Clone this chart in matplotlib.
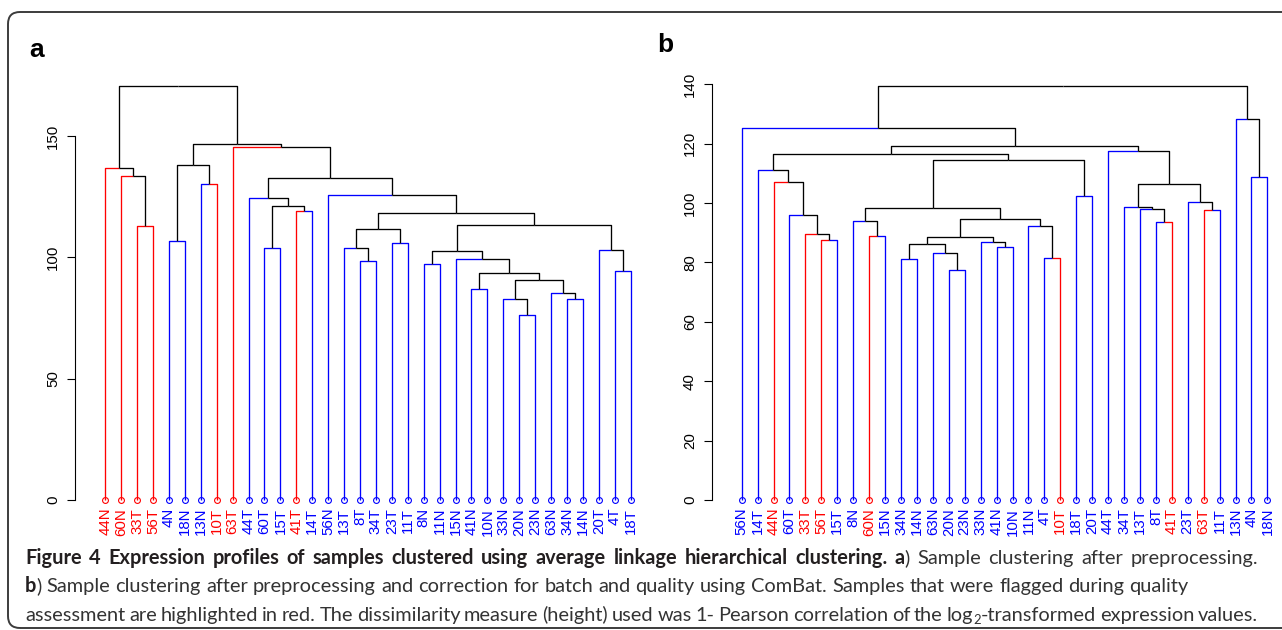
import matplotlib
matplotlib.use("Agg")
import matplotlib.pyplot as plt
import matplotlib.transforms as mtransforms
from matplotlib.patches import FancyBboxPatch

# leaf order as drawn, and the samples flagged in QC (drawn red)
leaves_a = ["44N", "60N", "33T", "56T", "4N", "18N", "13N", "10T", "63T", "44T", "60T", "15T",
            "41T", "14T", "56N", "13T", "8T", "34T", "23T", "11T", "8N", "11N", "15N", "41N",
            "10N", "33N", "20N", "23N", "63N", "34N", "14N", "20T", "4T", "18T"]
leaves_b = ["56N", "14T", "44N", "60T", "33T", "56T", "15T", "8N", "60N", "15N", "34N", "14N",
            "63N", "20N", "23N", "33N", "41N", "10N", "11N", "4T", "10T", "18T", "20T", "44T",
            "34T", "13T", "8T", "41T", "23T", "63T", "11T", "13N", "4N", "18N"]
flagged = {"44N", "60N", "33T", "56T", "10T", "63T", "41T"}

# merges as [left, right, height]
tree_a = [
    ["44N", ["60N", ["33T", "56T", 112.8], 133.6], 136.9],
    [
        [["4N", "18N", 106.9], ["13N", "10T", 130.3], 138.2],
        ["63T",
         [["44T", [["60T", "15T", 103.8], ["41T", "14T", 119.2], 121.1], 124.4],
          ["56N",
           [[["13T", ["8T", "34T", 98.6], 103.8], ["23T", "11T", 105.7], 111.7],
            [[["8N", "11N", 97.1],
              ["15N", [["41N", "10N", 86.8],
                       [["33N", ["20N", "23N", 76.1], 82.7],
                        ["63N", ["34N", "14N", 82.9], 85.2], 90.6], 93.7], 99.2],
              102.6],
             ["20T", ["4T", "18T", 94.5], 103.0],
             113.2],
            118.4],
           125.8],
          132.7],
         145.3],
        146.5],
    170.6]

tree_b = [
    ["56N",
     [[["14T", ["44N", ["60T", ["33T", ["56T", "15T", 87.5], 89.6], 95.9], 107.0], 111.3],
       [[["8N", ["60N", "15N", 88.8], 94.1],
         [[[["34N", "14N", 81.1], ["63N", ["20N", "23N", 77.5], 83.3], 86.1],
           ["33N", ["41N", "10N", 85.3], 87.0],
           88.7],
          ["11N", ["4T", "10T", 81.4], 92.2],
          94.8],
         98.3],
        ["18T", "20T", 102.3],
        114.6],
       116.4],
      ["44T",
       [["34T", ["13T", ["8T", "41T", 93.7], 98.1], 98.6],
        ["23T", ["63T", "11T", 97.7], 100.5],
        106.4],
       117.4],
      119.4],
     125.3],
    ["13N", ["4N", "18N", 108.8], 128.2],
    139.4]

yticks_a = [0, 50, 100, 150]
yticks_b = [0, 20, 40, 60, 80, 100, 120, 140]

caption_bold = "Figure 4 Expression profiles of samples clustered using average linkage hierarchical clustering."
caption_a = "Sample clustering after preprocessing."
caption_b = ("Sample clustering after preprocessing and correction for batch and quality using ComBat. "
             "Samples that were flagged during quality")
caption_c = ("assessment are highlighted in red. The dissimilarity measure (height) used was 1- Pearson "
             "correlation of the")
caption_c_end = "expression values."

RED = "#FF0000"
BLUE = "#0000FF"
W, H = 1282, 630


def leaf_color(name):
    return RED if name in flagged else BLUE


def leaf_order(node):
    if isinstance(node, str):
        return [node]
    return leaf_order(node[0]) + leaf_order(node[1])


def draw_tree(ax, node, pos):
    if isinstance(node, str):
        return pos[node], 0.0
    left, right, h = node
    kids = [draw_tree(ax, left, pos), draw_tree(ax, right, pos)]
    x = (kids[0][0] + kids[1][0]) / 2
    for child, (cx, ch) in zip((left, right), kids):
        col = leaf_color(child) if isinstance(child, str) else "black"
        ax.plot([x, cx, cx], [h, h, ch], color=col, lw=0.95, solid_capstyle="butt")
    return x, h


def dendro_panel(fig, tree, leaves, yticks, box, x_first, x_step, px_per_unit):
    assert leaf_order(tree) == leaves
    left, right, top, bottom = box
    ax = fig.add_axes([left / W, 1 - bottom / H, (right - left) / W, (bottom - top) / H])
    base = 500
    ax.set_xlim((left - x_first) / x_step, (right - x_first) / x_step)
    ax.set_ylim((base - bottom) / px_per_unit, (base - top) / px_per_unit)
    pos = {name: i for i, name in enumerate(leaves)}
    draw_tree(ax, tree, pos)
    for i, name in enumerate(leaves):
        col = leaf_color(name)
        ax.plot(i, 0, "o", ms=4.2, mfc="none", mec=col, mew=0.8, clip_on=False)
        ax.annotate(name, (i, 0), xytext=(0, -5.6), textcoords="offset points",
                    rotation=90, ha="center", va="top", color=col, fontsize=10.8,
                    family="Liberation Sans", annotation_clip=False)
    for s in ("top", "right", "bottom"):
        ax.spines[s].set_visible(False)
    ax.spines["left"].set_bounds(yticks[0], yticks[-1])
    ax.spines["left"].set_linewidth(0.8)
    ax.set_xticks([])
    ax.set_yticks(yticks)
    ax.set_yticklabels([str(t) for t in yticks], family="Liberation Sans", fontsize=10.8)
    ax.tick_params(axis="y", length=5.8, width=0.8, pad=5.0)
    for lbl in ax.get_yticklabels():
        lbl.set_rotation(90)
        lbl.set_va("center")
    ax.patch.set_visible(False)
    return ax


fig = plt.figure(figsize=(W / 100, H / 100), dpi=100)
ident = mtransforms.IdentityTransform()

border = FancyBboxPatch((8, 2), 1320, 616, boxstyle="round,pad=0,rounding_size=12",
                        transform=ident, fill=False, ec="#3c3c3c", lw=1.4)
fig.add_artist(border)

dendro_panel(fig, tree_a, leaves_a, yticks_a, (75, 640, 80, 510), 105.3, 15.92, 2.427)
dendro_panel(fig, tree_b, leaves_b, yticks_b, (712, 1278, 80, 510), 741.7, 15.93, 2.969)

fig.text(29, H - 57, "a", transform=ident, family="Liberation Sans", weight="bold",
         fontsize=19, va="baseline")
fig.text(657, H - 52, "b", transform=ident, family="Liberation Sans", weight="bold",
         fontsize=19, va="baseline")

# caption, drawn word by word so bold/regular/subscript runs can be mixed
renderer = fig.canvas.get_renderer()
BOLD_C = "#231F20"
REG_C = "#333333"


def run_props(style, size):
    if style == "b":
        return dict(family="Lato", weight="bold", fontsize=size, color=BOLD_C)
    if style == "s":
        return dict(family="Lato", fontsize=size * 0.65, color=REG_C)
    return dict(family="Lato", fontsize=size, color=REG_C)


def width_of(s, style, size):
    t = fig.text(0, 0, s, transform=ident, **run_props(style, size))
    w = t.get_window_extent(renderer).width
    t.remove()
    return w


def space_of(size):
    return width_of("n n", "r", size) - width_of("nn", "r", size)


def word_width(word, size):
    return sum(width_of(s, st, size) for s, st in word)


def line_width(words, size, squeeze=0.8):
    return sum(word_width(w, size) for w in words) + squeeze * space_of(size) * (len(words) - 1)


line1 = ([[(w, "b")] for w in caption_bold.split()] + [[("a", "b"), (")", "r")]]
         + [[(w, "r")] for w in caption_a.split()])
line2 = [[("b", "b"), (")", "r")]] + [[(w, "r")] for w in caption_b.split()]
line3 = ([[(w, "r")] for w in caption_c.split()]
         + [[("log", "r"), ("2", "s"), ("-transformed", "r")]]
         + [[(w, "r")] for w in caption_c_end.split()])

x0, x1 = 25, 1258
size = 12 * (x1 - x0) / max(line_width(line1, 12), line_width(line3, 12))


def draw_line(words, baseline, justify):
    gap = space_of(size)
    if justify:
        natural = sum(word_width(w, size) for w in words)
        gap = (x1 - x0 - natural) / (len(words) - 1)
    x = x0
    for word in words:
        for s, st in word:
            y = H - baseline
            if st == "s":
                y -= size * 100 / 72 * 0.15
            fig.text(x, y, s, transform=ident, va="baseline", **run_props(st, size))
            x += width_of(s, st, size)
        x += gap


draw_line(line1, 564, True)
draw_line(line2, 592, False)
draw_line(line3, 621, True)

fig.savefig("out.png", dpi=100)
